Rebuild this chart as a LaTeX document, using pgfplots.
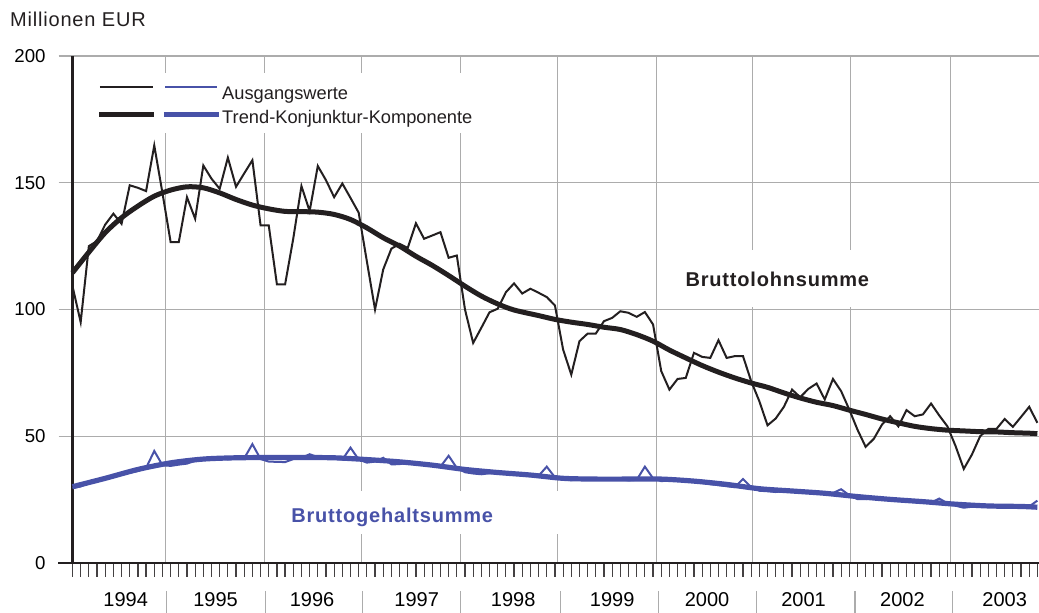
\documentclass[border=0pt]{standalone}
\usepackage{fontspec}
\setmainfont{Liberation Sans}
\newfontfamily\lsfont[LetterSpace=4]{Liberation Sans}
\usepackage{pgfplots}
\usepackage{pgfplotstable}
\pgfplotsset{compat=1.18}
\definecolor{bl}{RGB}{72,82,168}
\definecolor{bk}{RGB}{35,31,32}
\definecolor{gr}{RGB}{172,172,172}

\pgfplotstableread{
i v
0 109.2
1 95.0
2 125.0
3 127.0
4 133.5
5 137.8
6 133.8
7 149.0
8 148.0
9 146.7
10 164.7
11 146.0
12 126.6
13 126.6
14 144.3
15 135.8
16 156.8
17 151.6
18 147.6
19 159.9
20 148.4
21 153.7
22 158.9
23 133.2
24 133.2
25 109.9
26 109.9
27 128.0
28 148.7
29 138.8
30 156.6
31 151.0
32 144.3
33 149.7
34 144.0
35 138.2
36 119.0
37 100.0
38 115.8
39 124.0
40 125.9
41 124.3
42 134.0
43 127.9
44 129.2
45 130.5
46 120.4
47 121.3
48 100.0
49 86.8
50 92.8
51 98.9
52 100.3
53 106.8
54 110.3
55 106.3
56 108.2
57 106.6
58 104.9
59 101.6
60 84.2
61 74.3
62 87.5
63 90.5
64 90.5
65 95.4
66 96.7
67 99.3
68 98.7
69 97.1
70 99.0
71 94.1
72 75.7
73 68.4
74 72.6
75 73.0
76 82.9
77 81.3
78 80.9
79 87.9
80 80.9
81 81.6
82 81.6
83 71.7
84 63.8
85 54.3
86 57.0
87 61.6
88 68.4
89 65.4
90 68.7
91 70.8
92 64.5
93 72.6
94 67.8
95 60.5
96 52.6
97 45.8
98 49.0
99 54.6
100 57.9
101 53.9
102 60.3
103 57.9
104 58.6
105 62.9
106 58.2
107 53.9
108 46.1
109 37.1
110 42.8
111 50.0
112 52.9
113 52.9
114 56.8
115 53.7
116 57.6
117 61.6
118 55.3
}\lohnraw

\pgfplotstableread{
i v
0 114.5
2 122.6
4 130.3
6 136.2
8 140.8
10 144.7
12 147.1
14 148.4
16 148.0
18 146.0
20 143.4
22 141.2
24 139.7
26 138.7
28 138.6
30 138.4
32 137.5
34 135.5
36 132.2
38 128.3
40 125.0
42 121.0
44 117.4
46 113.4
48 109.2
50 105.3
52 102.2
54 99.8
57 97.6
59 96.1
61 95.0
63 94.1
65 93.0
67 92.1
69 90.1
71 87.5
73 84.0
75 80.9
77 77.9
79 75.3
81 73.0
83 71.0
85 69.3
87 67.1
89 65.1
91 63.4
93 62.1
95 60.3
97 58.6
99 56.8
101 55.3
103 53.9
105 53.0
107 52.4
109 52.1
111 51.8
113 51.7
115 51.4
117 51.2
118 51.0
}\lohntrend

\pgfplotstableread{
i v
0 29.5
1 30.2
2 31.5
3 32.5
4 33.2
5 34.0
6 35.0
7 35.6
8 36.3
9 37.5
10 44.2
11 38.6
12 38.3
13 38.8
14 39.2
15 40.3
16 40.8
17 41.0
18 41.2
19 40.9
20 41.4
21 41.3
22 46.9
23 41.0
24 40.0
25 39.9
26 39.8
27 41.0
28 41.5
29 42.9
30 41.8
31 41.4
32 41.2
33 40.8
34 45.5
35 40.8
36 39.6
37 40.0
38 41.5
39 38.9
40 39.0
41 39.5
42 39.2
43 38.8
44 38.5
45 38.0
46 42.3
47 37.5
48 35.8
49 35.3
50 35.0
51 35.4
52 35.6
53 35.4
54 35.0
55 34.8
56 34.3
57 34.4
58 38.0
59 33.8
60 32.8
61 32.7
62 33.0
63 32.9
64 32.8
65 33.2
66 33.3
67 33.0
68 32.6
69 32.8
70 38.0
71 33.4
72 32.3
73 32.5
74 32.6
75 32.4
76 32.0
77 31.6
78 31.1
79 30.7
80 30.3
81 29.9
82 33.1
83 29.9
84 28.5
85 28.3
86 28.0
87 28.4
88 28.3
89 28.0
90 27.8
91 27.6
92 27.3
93 27.6
94 29.1
95 26.7
96 25.2
97 25.2
98 25.5
99 25.3
100 25.0
101 24.8
102 24.5
103 24.0
104 23.9
105 23.8
106 25.4
107 23.6
108 22.6
109 21.8
110 22.2
111 22.3
112 22.4
113 22.3
114 22.2
115 22.2
116 22.0
117 22.3
118 24.6
}\gehraw

\pgfplotstableread{
i v
0 30.1
4 33.4
8 36.9
12 39.5
16 41.0
20 41.5
24 41.6
28 41.6
32 41.5
36 40.8
40 39.9
44 38.6
48 36.9
52 35.7
56 34.7
60 33.4
64 33.1
68 33.1
72 33.1
76 32.3
80 31.0
84 29.3
88 28.4
92 27.5
96 26.2
100 25.1
104 24.2
108 23.2
112 22.5
116 22.3
118 22.0
}\gehtrend

\begin{document}
\begin{tikzpicture}[x=1pt,y=1pt]
\useasboundingbox (-54.375,-37.5) rectangle (724.875,422.25);
\begin{axis}[
  at={(0,0)}, anchor=south west,
  scale only axis, width=724.875pt, height=380.25pt,
  xmin=0, xmax=118.2, ymin=0, ymax=200,
  clip=false,
  axis x line=bottom, axis y line=left,
  axis line style={-, bk, line width=2pt},
  ytick={0,50,100,150,200},
  ymajorgrids,
  grid style={gr, line width=0.8pt},
  minor grid style={gr, line width=0.8pt},
  tick align=outside,
  major tick length=10.5pt,
  minor tick length=0pt,
  y tick style={gr, line width=0.8pt},
  xtick={0,1,...,118},
  xticklabels={},
  major x tick style={bk!85, line width=0.9pt},
  minor xtick={11.43,23.53,35.4,47.4,59.3,71.45,83.15,95.2,107.4},
  xminorgrids,
  extra x ticks={6.5,17.5,29.3,42.1,53.9,66,77.6,89.4,101.5,114},
  extra x tick labels={1994,1995,1996,1997,1998,1999,2000,2001,2002,2003},
  extra x tick style={major tick length=0pt, xmajorgrids=false},
  /pgf/number format/assume math mode=true,
  yticklabel style={font=\fontsize{14}{14}\selectfont, anchor=east, inner sep=0pt, xshift=-9.5pt},
  xticklabel style={font=\fontsize{15}{15}\selectfont, anchor=base, inner sep=0pt, yshift=-32.5pt},
]
\addplot[bk, line width=1.5pt] table[x=i,y=v] {\lohnraw};
\addplot[bk, line width=3.75pt, smooth] table[x=i,y=v] {\lohntrend};
\addplot[bl, line width=1.5pt] table[x=i,y=v] {\gehraw};
\addplot[bl, line width=3.9pt, smooth] table[x=i,y=v] {\gehtrend};
\fill[white] (axis cs:25.6,11.4) rectangle (axis cs:60.3,28.5);
\node[bl, anchor=base, inner sep=0pt, font=\lsfont\bfseries\fontsize{15}{15}\selectfont] at (axis cs:39.1,15.9) {Bruttogehaltsumme};
\fill[white] (axis cs:73.3,101) rectangle (axis cs:99.2,123.5);
\node[bk, anchor=base, inner sep=0pt, font=\lsfont\bfseries\fontsize{15}{15}\selectfont] at (axis cs:86.2,109) {Bruttolohnsumme};
\pgfplotsinvokeforeach{11.55,23.66,35.5,47.5,59.7,71.7,83.7,95.7,107.6}{
  \draw[gr, line width=0.8pt] (axis cs:#1,0) ++(0,-21pt) -- ++(0,-16.5pt);
}
\draw[bk, line width=0.8pt] (axis cs:0,0) -- ++(-10.5pt,0);
\end{axis}
% legend
\fill[white] (9.4,322.5) rectangle (305.6,367.5);
\draw[bk, line width=1.5pt] (20.6,356.8) -- (60.4,356.8);
\draw[bl, line width=1.5pt] (69.4,356.8) -- (108.4,356.8);
\draw[bk, line width=3.75pt] (19.9,336.5) -- (61.1,336.5);
\draw[bl, line width=3.75pt] (68.6,336.5) -- (109.9,336.5);
\node[anchor=base west, inner sep=0pt, text=bk, font=\fontsize{13.7}{13.7}\selectfont] at (112.1,347.25) {Ausgangswerte};
\node[anchor=base west, inner sep=0pt, text=bk, font=\fontsize{13.7}{13.7}\selectfont] at (112.1,329.25) {Trend-Konjunktur-Komponente};
\node[anchor=base west, inner sep=0pt, text=bk, font=\lsfont\fontsize{15}{15}\selectfont] at (-46.9,402.2) {Millionen EUR};
\end{tikzpicture}
\end{document}
